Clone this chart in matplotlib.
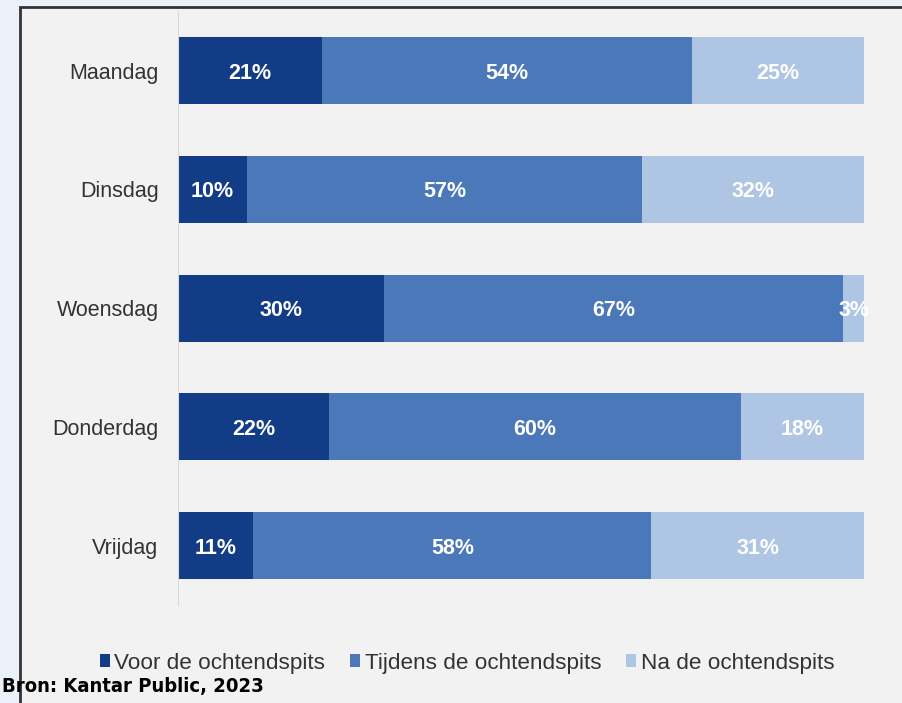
import numpy as np
import matplotlib.pyplot as plt
from matplotlib.patches import Rectangle

plt.rcParams['font.family'] = ['Liberation Sans', 'DejaVu Sans']

# data
dagen = ['Maandag', 'Dinsdag', 'Woensdag', 'Donderdag', 'Vrijdag']
voor = [21, 10, 30, 22, 11]
tijdens = [54, 57, 67, 60, 58]
na = [25, 32, 3, 18, 31]
reeksen = ['Voor de ochtendspits', 'Tijdens de ochtendspits', 'Na de ochtendspits']
kleuren = ['#123c85', '#4a78b9', '#aec6e4']

W, H = 902, 703
fig = plt.figure(figsize=(W / 100, H / 100), dpi=100)
fig.patch.set_facecolor('#eaf1f9')

# grijs paneel met rand
fig.patches.append(Rectangle((20 / W, -0.05), 1.0, 1 - 7 / H + 0.05, transform=fig.transFigure,
                             facecolor='#f2f2f2', edgecolor='#333333', linewidth=2, zorder=-5))

ax = fig.add_axes([178 / W, 1 - 605 / H, (864 - 178) / W, (605 - 11.4) / H])
ax.set_facecolor('none')

data = np.array([voor, tijdens, na], dtype=float)
totaal = data.sum(axis=0)
frac = data / totaal
y = np.arange(len(dagen))
links = np.zeros(len(dagen))
for i in range(3):
    ax.barh(y, frac[i], left=links, height=0.565, color=kleuren[i], label=reeksen[i])
    for j in range(len(dagen)):
        ax.text(links[j] + frac[i][j] / 2, y[j] + 0.02, f'{int(data[i][j])}%', ha='center', va='center',
                color='white', fontsize=15.5, fontweight='bold')
    links += frac[i]

ax.set_xlim(0, 1)
ax.set_ylim(4.5, -0.5)
ax.set_yticks(y)
ax.set_yticklabels(dagen, fontsize=15.5, color='#333333')
ax.tick_params(axis='y', length=0, pad=14)
ax.set_xticks([])
for s in ['top', 'right', 'bottom']:
    ax.spines[s].set_visible(False)
ax.spines['left'].set_color('#d9d9d9')

leg = fig.legend(loc='center', bbox_to_anchor=(467 / W, 1 - 663 / H), ncol=3, frameon=False,
                 fontsize=16.2, handlelength=0.45, handleheight=0.45, handletextpad=0.2,
                 columnspacing=1.1, labelcolor='#333333')

fig.text(2 / W, 1 - 692 / H, 'Bron: Kantar Public, 2023', fontsize=14.5, fontweight='bold',
         family='DejaVu Sans', stretch='condensed', color='black', va='baseline')

fig.savefig('out.png', dpi=100, facecolor=fig.get_facecolor())
